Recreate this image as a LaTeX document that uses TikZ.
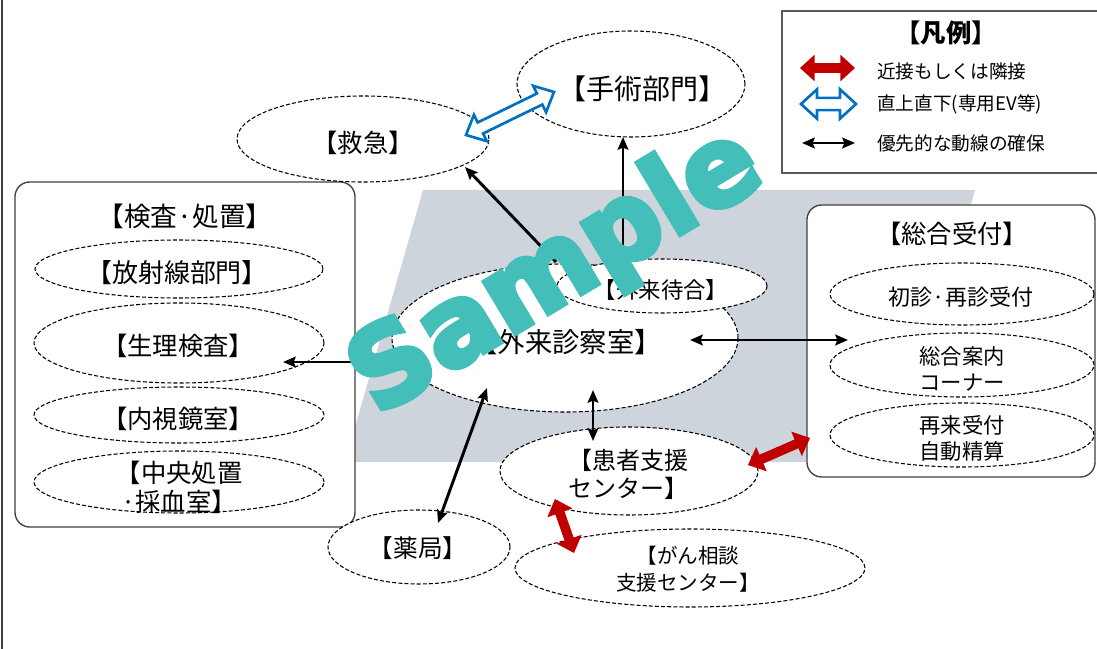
\documentclass[tikz,border=0pt]{standalone}
\usepackage{fontspec}
\setmainfont{Noto Sans CJK JP}
\newfontfamily\wmfont{DejaVu Sans}[BoldFeatures={FakeBold=5}]
\usetikzlibrary{shapes.geometric,arrows.meta,calc}
\definecolor{grayreg}{HTML}{CED4DC}
\definecolor{wmteal}{HTML}{44BEB9}
\definecolor{redfill}{HTML}{C00000}
\definecolor{bluearr}{HTML}{0070C0}
\definecolor{boxline}{HTML}{404040}
\definecolor{legline}{HTML}{595959}
\newcommand\fatarrow[6]{%
  \path[#3] (#1)
  -- ($(#1)!#6!(#2)!#5!90:(#2)$)
  -- ($(#1)!#6!(#2)!#4!90:(#2)$)
  -- ($(#2)!#6!(#1)!#4!-90:(#1)$)
  -- ($(#2)!#6!(#1)!#5!-90:(#1)$)
  -- (#2)
  -- ($(#2)!#6!(#1)!#5!90:(#1)$)
  -- ($(#2)!#6!(#1)!#4!90:(#1)$)
  -- ($(#1)!#6!(#2)!#4!-90:(#2)$)
  -- ($(#1)!#6!(#2)!#5!-90:(#2)$)
  -- cycle;}
\begin{document}
\begin{tikzpicture}[x=0.75pt,y=-0.75pt,
  ell/.style 2 args={ellipse, draw=black, line width=0.8pt, dash pattern=on 3pt off 1.6pt,
    fill=white, inner sep=0pt, minimum width=#1*0.75pt, minimum height=#2*0.75pt},
  grpbox/.style 2 args={rectangle, rounded corners=11pt, draw=boxline, line width=1pt,
    fill=white, inner sep=0pt, minimum width=#1*0.75pt, minimum height=#2*0.75pt},
  ft/.style 2 args={inner sep=0pt, align=center, font=\fontsize{#1}{#2}\selectfont},
  lgt/.style={inner sep=0pt, anchor=west, font=\fontsize{14}{17}\selectfont},
  blk/.style={draw=black, line width=2.2pt},
  tipk/.tip={Stealth[length=9.5pt,width=8pt,inset=1.5pt]},
  redfat/.style={fill=redfill},
  bluefat/.style={draw=bluearr, line width=2pt, fill=white, line join=miter}]
\useasboundingbox (0,0) rectangle (1097,649);
% grey floor area
\fill[grayreg] (423,190) -- (975,190) -- (897,462) -- (345,462) -- cycle;
% left page border
\draw[boxline, line width=1.5pt] (2,0) -- (2,649);
% group boxes
\node[grpbox={340}{345}] (kensa) at (185,354.5) {};
\node[grpbox={288}{272}] (sogo) at (951,341) {};
\node[rectangle, draw=legline, line width=1.5pt, fill=white, inner sep=0pt,
      minimum width=328*0.75pt, minimum height=162*0.75pt] (legend) at (946,92) {};
% ellipses
\node[ell={252}{86}] (kyu) at (363,139) {};
\node[ell={228}{106}] (shujutsu) at (631,84) {};
\node[ell={346}{148}] (shinsatsu) at (565,338) {};
\node[ell={210}{54}] (machiai) at (662,286) {};
\node[ell={182}{74}] (yakkyoku) at (419,547) {};
\node[ell={258}{88}] (kanja) at (629,471) {};
\node[ell={350}{78}] (gan) at (690,568) {};
\node[ell={288}{58}] (hoshasen) at (179,269) {};
\node[ell={290}{80}] (seiri) at (179,343) {};
\node[ell={290}{56}] (naishi) at (179,415) {};
\node[ell={290}{62}] (chuo) at (179,482) {};
\node[ell={264}{62}] (shoshin) at (962,294) {};
\node[ell={264}{64}] (annai) at (962,365) {};
\node[ell={264}{64}] (sairai) at (962,435) {};
% texts
\node[ft={19}{22}] (t-kyu) at (363,143) {【救急】};
\node[ft={21}{24}] (t-shujutsu) at (642,89) {【手術部門】};
\node[ft={20.5}{24}] (t-shinsatsu) at (566,342) {【外来診察室】};
\node[ft={16.8}{20}] (t-machiai) at (661,290) {【外来待合】};
\node[ft={18.5}{21}] (t-yakkyoku) at (418,548) {【薬局】};
\node[ft={18}{21}] (t-kanja) at (628,474) {【患者支援\\センター】};
\node[ft={15.4}{20}] (t-gan) at (688,569) {【がん相談\\支援センター】};
\node[ft={20}{24}] (t-kensa) at (185,216) {【検査·処置】};
\node[ft={19.5}{22}] (t-hoshasen) at (177,273) {【放射線部門】};
\node[ft={19}{22}] (t-seiri) at (178,346) {【生理検査】};
\node[ft={19}{22}] (t-naishi) at (178,419) {【内視鏡室】};
\node[ft={19}{21.75}] (t-chuo) at (179,487) {【中央処置\\·採血室】};
\node[ft={19}{22}] (t-sogo) at (952,234) {【総合受付】};
\node[ft={16.5}{20}] (t-shoshin) at (961,297) {初診·再診受付};
\node[ft={16}{20}] (t-annai) at (962,369) {総合案内\\コーナー};
\node[ft={16}{19.5}] (t-sairai) at (962,438) {再来受付\\自動精算};
% legend
\node[inner sep=0pt, font=\bfseries\fontsize{19}{22}\selectfont] (l-title) at (946,33) {【凡例】};
\node[lgt] (l-red) at (877,71) {近接もしくは隣接};
\node[lgt] (l-blue) at (877,104) {直上直下(専用EV等)};
\node[lgt] (l-black) at (877,143) {優先的な動線の確保};
\coordinate (lr1) at (800,68);  \coordinate (lr2) at (855,68);
\coordinate (lb1) at (801,104); \coordinate (lb2) at (856,104);
\coordinate (lk1) at (802,143); \coordinate (lk2) at (855,143);
\fatarrow{lr1}{lr2}{redfat}{3.6pt}{10pt}{11pt}
\fatarrow{lb1}{lb2}{bluefat}{4.6pt}{11pt}{12pt}
\draw[blk, {tipk}-{tipk}] (lk1) -- (lk2);
% connector end points
\coordinate (k1s) at (556,262); \coordinate (k1e) at (465,167);
\coordinate (k2s) at (623,262); \coordinate (k2e) at (623,137);
\coordinate (k3s) at (390,362); \coordinate (k3e) at (283,362);
\coordinate (k4s) at (690,340); \coordinate (k4e) at (848,340);
\coordinate (k5s) at (593,390); \coordinate (k5e) at (593,441);
\coordinate (k6s) at (487,388); \coordinate (k6e) at (438,523);
\coordinate (r1a) at (748,465); \coordinate (r1b) at (810,438);
\coordinate (r2a) at (555,499); \coordinate (r2b) at (574,553);
\coordinate (b1a) at (466,135); \coordinate (b1b) at (554,92);
% black connectors
\draw[blk, -{tipk}] (k1s) -- (k1e);
\draw[blk, -{tipk}] (k2s) -- (k2e);
\draw[blk, -{tipk}] (k3s) -- (k3e);
\draw[blk, {tipk}-{tipk}] (k4s) -- (k4e);
\draw[blk, {tipk}-{tipk}] (k5s) -- (k5e);
\draw[blk, {tipk}-{tipk}] (k6s) -- (k6e);
% fat arrows
\fatarrow{r1a}{r1b}{redfat}{3.6pt}{10pt}{11pt}
\fatarrow{r2a}{r2b}{redfat}{3.6pt}{10pt}{11pt}
\fatarrow{b1a}{b1b}{bluefat}{4.6pt}{11pt}{12pt}
% watermark
\node[rotate=31, text=wmteal, inner sep=0pt, font=\wmfont\bfseries\fontsize{82}{82}\selectfont] (wm) at (557,273) {Sample};
\end{tikzpicture}
\end{document}
